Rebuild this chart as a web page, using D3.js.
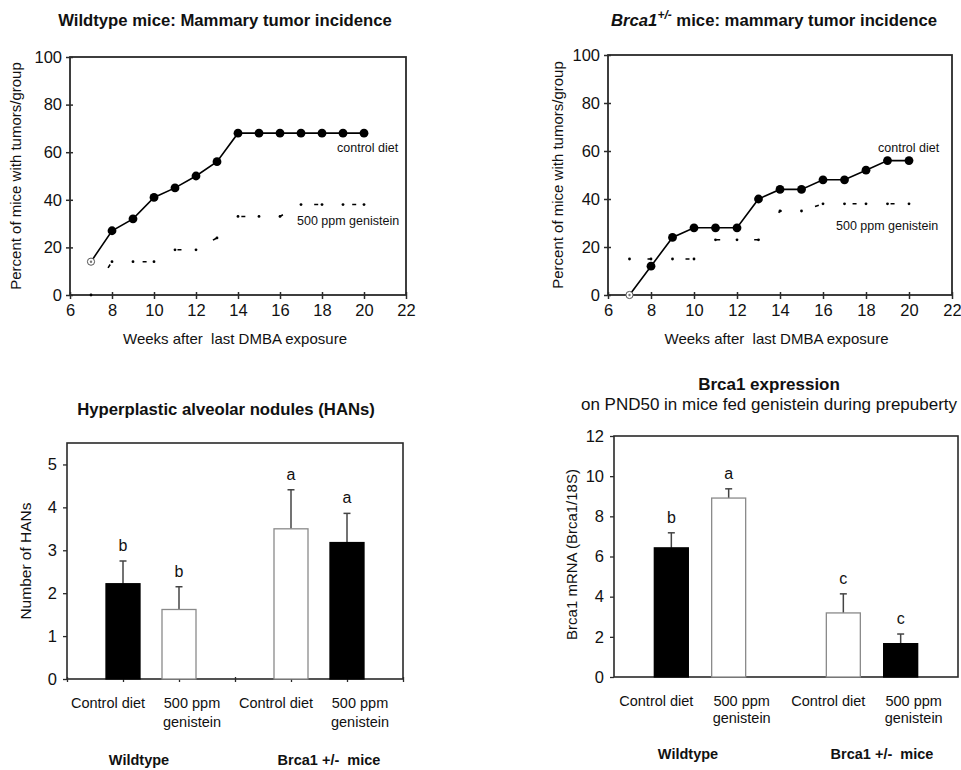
<!DOCTYPE html>
<html>
<head>
<meta charset="utf-8">
<script src="https://cdn.jsdelivr.net/npm/d3@7"></script>
<style>
  body { margin: 0; background: #fff; }
  svg { font-family: "Liberation Sans", Arial, sans-serif; }
  .tick text { fill: #111; }
</style>
</head>
<body>
<svg width="961" height="770"></svg>
<script>
(()=>{
	//data
	let weeks = [7, 8, 9, 10, 11, 12, 13, 14, 15, 16, 17, 18, 19, 20];
	let wtControl = [14, 27, 32, 41, 45, 50, 56, 68, 68, 68, 68, 68, 68, 68];
	let wtGenistein = [0, 14, 14, 14, 19, 19, 24, 33, 33, 33, 38, 38, 38, 38];
	let brcaControl = [0, 12, 24, 28, 28, 28, 40, 44, 44, 48, 48, 52, 56, 56];
	let brcaGenistein = [15, 15, 15, 15, 23, 23, 23, 35, 35, 38, 38, 38, 38, 38];
	let weekTicks = [6, 8, 10, 12, 14, 16, 18, 20, 22];
	let pctTicks = [0, 20, 40, 60, 80, 100];

	let dietLabels = [["Control diet"], ["500 ppm", "genistein"], ["Control diet"], ["500 ppm", "genistein"]];
	let groupLabels = ["Wildtype", "Brca1 +/-  mice"];
	let barSlots = [1, 2, 4, 5]; //slot index on a 0..6 axis, 3 is the gap between groups
	let barFill = ["#000", "#fff", "#fff", "#000"];

	let hanMeans = [2.22, 1.62, 3.50, 3.18];
	let hanErr = [0.53, 0.53, 0.91, 0.68];
	let hanLetters = ["b", "b", "a", "a"];
	let hanTicks = [0, 1, 2, 3, 4, 5];

	let brcaMeans = [6.43, 8.91, 3.19, 1.66];
	let brcaErr = [0.75, 0.46, 0.95, 0.48];
	let brcaLetters = ["b", "a", "c", "c"];
	let brcaTicks = [0, 2, 4, 6, 8, 10, 12];

	let svg = d3.select("svg");
	let ink = "#111", axisInk = "#2a2a2a";

	//line charts
	function lineChart(o){
		let x = d3.scaleLinear().domain([6, 22]).range([o.left, o.right]);
		let y = d3.scaleLinear().domain([0, 100]).range([o.bottom, o.top]);
		let g = svg.append("g");

		//box
		g.append("rect")
			.attr("x", o.left).attr("y", o.top)
			.attr("width", o.right - o.left).attr("height", o.bottom - o.top)
			.attr("fill", "none").attr("stroke", axisInk).attr("stroke-width", 1.8);

		let ya = g.append("g").attr("transform", "translate(" + o.left + ",0)")
			.call(d3.axisLeft(y).tickValues(pctTicks).tickSize(4).tickPadding(4));
		let xa = g.append("g").attr("transform", "translate(0," + o.bottom + ")")
			.call(d3.axisBottom(x).tickValues(weekTicks).tickSize(4).tickPadding(5));
		[ya, xa].forEach(a => {
			a.select(".domain").remove();
			a.selectAll("line").attr("stroke", axisInk).attr("stroke-width", 1.5);
			a.selectAll("text").attr("font-size", 16.5).attr("fill", ink);
		});
		ya.selectAll("line").attr("x1", 3);
		xa.selectAll("line").attr("y1", -3);

		g.append("text")
			.attr("transform", "translate(" + o.yLabelX + "," + ((o.top + o.bottom) / 2) + ") rotate(-90)")
			.attr("text-anchor", "middle").attr("font-size", 15).attr("fill", ink)
			.text("Percent of mice with tumors/group");
		g.append("text")
			.attr("x", (o.left + x(20)) / 2 + 18).attr("y", o.bottom + 49)
			.attr("text-anchor", "middle").attr("font-size", 15).attr("fill", ink)
			.attr("xml:space", "preserve")
			.text("Weeks after  last DMBA exposure");

		let line = d3.line().x((d, i) => x(weeks[i])).y(d => y(d));

		//genistein: sparse dotted line
		g.append("path").datum(o.gen)
			.attr("d", line)
			.attr("fill", "none").attr("stroke", "#000").attr("stroke-width", 1.6)
			.attr("stroke-dasharray", "4,34").attr("stroke-dashoffset", o.dashOffset);
		g.selectAll(".gdot").data(o.gen).enter().append("circle")
			.attr("cx", (d, i) => x(weeks[i])).attr("cy", d => y(d))
			.attr("r", 1.4).attr("fill", "#000");

		//control diet
		g.append("path").datum(o.ctrl)
			.attr("d", line)
			.attr("fill", "none").attr("stroke", "#000").attr("stroke-width", 1.6);
		g.selectAll(".cdot").data(o.ctrl).enter().append("circle")
			.attr("cx", (d, i) => x(weeks[i])).attr("cy", d => y(d))
			.attr("r", (d, i) => i == 0 ? 3.6 : 4.4)
			.attr("fill", (d, i) => i == 0 ? "#fff" : "#000")
			.attr("stroke", (d, i) => i == 0 ? "#555" : "none")
			.attr("stroke-width", 1);
		g.append("circle")
			.attr("cx", x(weeks[0])).attr("cy", y(o.ctrl[0])).attr("r", 1.2).attr("fill", "#777");

		g.append("text").attr("x", o.ctrlLab[0]).attr("y", o.ctrlLab[1])
			.attr("font-size", 12.5).attr("fill", ink).text("control diet");
		g.append("text").attr("x", o.genLab[0]).attr("y", o.genLab[1])
			.attr("font-size", 12.5).attr("fill", ink).text("500 ppm genistein");
		return g;
	}

	lineChart({left: 70, right: 406, top: 57, bottom: 295, yLabelX: 21,
		ctrl: wtControl, gen: wtGenistein, dashOffset: 6,
		ctrlLab: [337, 152], genLab: [297, 225]});
	lineChart({left: 608, right: 952, top: 55, bottom: 295, yLabelX: 563,
		ctrl: brcaControl, gen: brcaGenistein, dashOffset: 20,
		ctrlLab: [878, 152], genLab: [836, 230]});

	svg.append("text").attr("x", 225).attr("y", 26)
		.attr("text-anchor", "middle").attr("font-size", 16.7).attr("font-weight", "bold").attr("fill", ink)
		.text("Wildtype mice: Mammary tumor incidence");
	let t2 = svg.append("text").attr("x", 611).attr("y", 26)
		.attr("font-size", 16.7).attr("font-weight", "bold").attr("fill", ink);
	t2.append("tspan").attr("font-style", "italic").text("Brca1");
	t2.append("tspan").attr("font-style", "italic").attr("font-size", 12).attr("dy", -7).text("+/-");
	t2.append("tspan").attr("dy", 7).text(" mice: mammary tumor incidence");

	//bar charts
	function barChart(o){
		let x = d3.scaleLinear().domain([0, 6]).range([o.left, o.right]);
		let y = d3.scaleLinear().domain([0, o.yMax]).range([o.bottom, o.top]);
		let g = svg.append("g");
		let bw = 34;

		g.append("rect")
			.attr("x", o.left).attr("y", o.top)
			.attr("width", o.right - o.left).attr("height", o.bottom - o.top)
			.attr("fill", "none").attr("stroke", axisInk).attr("stroke-width", 1.6);

		let ya = g.append("g").attr("transform", "translate(" + o.left + ",0)")
			.call(d3.axisLeft(y).tickValues(o.ticks).tickFormat(d3.format("d")).tickSize(4).tickPadding(6));
		ya.select(".domain").remove();
		ya.selectAll("line").attr("stroke", axisInk).attr("stroke-width", 1.3);
		ya.selectAll("text").attr("font-size", 16.5).attr("fill", ink);
		if(o.xTicks){
			let xa = g.append("g").attr("transform", "translate(0," + o.bottom + ")")
				.call(d3.axisBottom(x).tickValues([0, 1, 2, 3, 4, 5, 6]).tickSize(3).tickFormat(""));
			xa.select(".domain").remove();
			xa.selectAll("line").attr("stroke", axisInk).attr("stroke-width", 1.3).attr("y1", -2);
		}

		//error bars
		o.means.forEach((m, i) => {
			let cx = x(barSlots[i]);
			g.append("line").attr("x1", cx).attr("x2", cx)
				.attr("y1", y(m)).attr("y2", y(m + o.err[i]))
				.attr("stroke", "#444").attr("stroke-width", 1.5);
			g.append("line").attr("x1", cx - 3.5).attr("x2", cx + 3.5)
				.attr("y1", y(m + o.err[i])).attr("y2", y(m + o.err[i]))
				.attr("stroke", "#444").attr("stroke-width", 1.5);
			g.append("text").attr("x", cx).attr("y", y(m + o.err[i]) - 10)
				.attr("text-anchor", "middle").attr("font-size", 16).attr("fill", ink)
				.text(o.letters[i]);
		});

		g.selectAll(".bar").data(o.means).enter().append("rect")
			.attr("x", (d, i) => x(barSlots[i]) - bw / 2)
			.attr("y", d => y(d))
			.attr("width", bw).attr("height", d => o.bottom - y(d))
			.attr("fill", (d, i) => barFill[i])
			.attr("stroke", (d, i) => barFill[i] == "#000" ? "#000" : "#8a8a8a")
			.attr("stroke-width", 1.3);

		//category labels
		dietLabels.forEach((lines, i) => {
			let cx = x(barSlots[i]) + (lines.length == 1 ? -15 : 13);
			let t = g.append("text").attr("text-anchor", "middle")
				.attr("font-size", 14.5).attr("fill", ink);
			lines.forEach((s, k) => {
				t.append("tspan").attr("x", cx).attr("y", o.bottom + 29 + k * o.lineGap).text(s);
			});
		});
		let groupShift = [-12, 10];
		groupLabels.forEach((s, k) => {
			g.append("text").attr("x", (x(barSlots[2 * k]) + x(barSlots[2 * k + 1])) / 2 + groupShift[k])
				.attr("y", o.groupY).attr("text-anchor", "middle")
				.attr("font-size", 14.5).attr("font-weight", "bold").attr("fill", ink)
				.attr("xml:space", "preserve")
				.text(s);
		});

		g.append("text")
			.attr("transform", "translate(" + o.yLabelX + "," + ((o.top + o.bottom) / 2 + o.yLabelShift) + ") rotate(-90)")
			.attr("text-anchor", "middle").attr("font-size", o.yLabelSize).attr("fill", ink)
			.text(o.yLabel);
		return g;
	}

	barChart({left: 67, right: 403, top: 443, bottom: 679, yMax: 5.5,
		ticks: hanTicks, means: hanMeans, err: hanErr, letters: hanLetters,
		xTicks: true, lineGap: 19, groupY: 765, yLabelX: 31, yLabelShift: 0, yLabelSize: 15.5,
		yLabel: "Number of HANs"});
	barChart({left: 614, right: 958, top: 436, bottom: 677, yMax: 12,
		ticks: brcaTicks, means: brcaMeans, err: brcaErr, letters: brcaLetters,
		xTicks: false, lineGap: 17, groupY: 759, yLabelX: 577, yLabelShift: -2, yLabelSize: 15,
		yLabel: "Brca1 mRNA (Brca1/18S)"});

	svg.append("text").attr("x", 226).attr("y", 415)
		.attr("text-anchor", "middle").attr("font-size", 16.7).attr("font-weight", "bold").attr("fill", ink)
		.text("Hyperplastic alveolar nodules (HANs)");
	svg.append("text").attr("x", 769).attr("y", 390)
		.attr("text-anchor", "middle").attr("font-size", 17).attr("font-weight", "bold").attr("fill", ink)
		.text("Brca1 expression");
	svg.append("text").attr("x", 769).attr("y", 410)
		.attr("text-anchor", "middle").attr("font-size", 17).attr("fill", ink)
		.text("on PND50 in mice fed genistein during prepuberty");
})();
</script>
</body>
</html>
